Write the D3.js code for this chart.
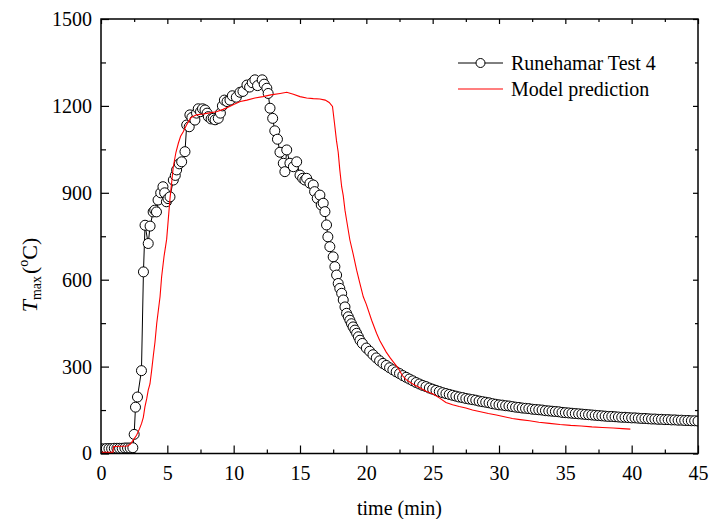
<!DOCTYPE html>
<html>
<head>
<meta charset="utf-8">
<script src="https://cdn.jsdelivr.net/npm/d3@7"></script>
<style>
  body { margin: 0; background: #fff; }
  text { font-family: "Liberation Serif", "Times New Roman", serif; }
</style>
</head>
<body>
<div id="chart"></div>
<script>
// ---- data ----
const xTicks = [0, 5, 10, 15, 20, 25, 30, 35, 40, 45];
const yTicks = [0, 300, 600, 900, 1200, 1500];

// Runehamar Test 4: flat start (evenly sampled)
const earlyStart = 0, earlyStep = 0.2;
const earlyTemp = [16, 16, 17, 17, 17, 18, 18, 18, 18, 19, 19, 19, 20];

// Runehamar Test 4: growth, peak and decay  [time (min), T (°C)]
const testPoints = [
  [2.5, 66], [2.6, 160], [2.75, 195], [3.05, 286], [3.2, 627], [3.32, 788],
  [3.56, 725], [3.7, 785], [3.93, 834], [4.05, 840], [4.18, 834], [4.3, 875],
  [4.5, 900], [4.67, 921], [4.8, 900], [4.93, 869], [5.05, 880], [5.2, 886],
  [5.45, 944], [5.6, 960], [5.7, 979], [5.9, 1000], [6.08, 1007], [6.33, 1042],
  [6.46, 1134], [6.65, 1128], [6.7, 1169], [6.85, 1160], [7.08, 1151], [7.2, 1175],
  [7.33, 1190], [7.5, 1180], [7.65, 1190], [7.84, 1186], [8.0, 1175], [8.09, 1163],
  [8.3, 1155], [8.46, 1157], [8.6, 1152], [8.84, 1157], [9.0, 1175], [9.15, 1200],
  [9.3, 1220], [9.5, 1215], [9.72, 1220], [9.9, 1235], [10.2, 1230], [10.48, 1247],
  [10.7, 1250], [11.0, 1272], [11.2, 1265], [11.4, 1280], [11.6, 1290], [11.8, 1270],
  [12.15, 1290], [12.3, 1275], [12.5, 1261], [12.6, 1243], [12.74, 1192], [12.94, 1157],
  [13.1, 1114], [13.3, 1085], [13.49, 1040], [13.74, 1002], [13.86, 973], [14.0, 1048],
  [14.24, 1002], [14.5, 990], [14.75, 1007], [15.0, 961], [15.2, 950], [15.37, 944],
  [15.5, 950], [15.75, 933], [16.0, 927], [16.1, 904], [16.3, 881], [16.5, 892],
  [16.6, 858], [16.75, 864], [16.88, 835], [17.0, 789], [17.1, 748], [17.25, 714],
  [17.5, 679], [17.63, 645], [17.76, 616], [17.88, 587], [18.0, 570], [18.14, 553],
  [18.26, 530], [18.39, 506], [18.51, 484], [18.64, 472], [18.76, 460], [18.88, 448],
  [19.0, 437], [19.14, 426], [19.27, 415], [19.4, 403], [19.52, 391], [19.7, 380]
];

// Runehamar Test 4: cooling tail (evenly sampled)
const tailStart = 20, tailStep = 0.25;
const tailTemp = [
  364, 353, 341, 330, 320, 311, 304, 296, 289, 282, 276, 269, 263, 257, 251, 245,
  240, 235, 231, 226, 222, 218, 214, 210, 207, 204, 201, 198, 195, 193, 190, 188,
  186, 184, 181, 179, 177, 175, 172, 170, 168, 167, 165, 164, 162, 160, 159, 157,
  156, 155, 153, 152, 151, 150, 148, 147, 146, 145, 144, 142, 141, 140, 139, 138,
  137, 136, 135, 134, 133, 132, 131, 130, 129, 128, 128, 127, 126, 125, 125, 124,
  123, 123, 122, 121, 121, 120, 119, 119, 118, 118, 117, 117, 116, 116, 115, 115,
  114, 114, 113, 113, 112
];

// Model prediction  [time (min), T (°C)]
const modelPoints = [
  [0, 4], [0.9, 4], [0.95, 24], [1.5, 25], [2.0, 26], [2.2, 32], [2.43, 46],
  [2.68, 63], [2.9, 85], [3.06, 104], [3.19, 125], [3.31, 161], [3.45, 190],
  [3.56, 219], [3.69, 240], [3.82, 288], [3.95, 340], [4.07, 385], [4.2, 449],
  [4.45, 541], [4.57, 610], [4.75, 680], [4.95, 740], [5.2, 880], [5.45, 990],
  [5.65, 1040], [5.83, 1071], [6.0, 1095], [6.2, 1111], [6.4, 1130], [6.58, 1145],
  [6.8, 1160], [7.2, 1169], [7.7, 1172], [8.2, 1176], [8.7, 1180], [9.2, 1188],
  [9.7, 1198], [10.0, 1205], [10.5, 1215], [11.0, 1220], [11.6, 1227], [12.2, 1232],
  [12.8, 1238], [13.5, 1243], [14.0, 1247], [14.5, 1240], [15.0, 1232], [15.5, 1227],
  [16.0, 1225], [16.5, 1224], [16.9, 1220], [17.2, 1212], [17.45, 1198], [17.6, 1140],
  [17.75, 1080], [17.88, 1040], [18.0, 979], [18.14, 921], [18.26, 890], [18.39, 840],
  [18.51, 806], [18.76, 737], [19.0, 690], [19.27, 633], [19.5, 590], [19.77, 541],
  [20.0, 515], [20.4, 460], [20.77, 415], [21.0, 391], [21.5, 350], [21.8, 330],
  [22.0, 318], [22.4, 295], [22.7, 270], [23.0, 255], [23.5, 240], [24.0, 228],
  [24.5, 215], [25.0, 206], [25.5, 192], [26.0, 176], [26.5, 168], [27.0, 162],
  [27.5, 157], [28.0, 150], [28.6, 144], [29.2, 138], [29.8, 133], [30.4, 127],
  [31.0, 121], [31.6, 117], [32.3, 113], [33.0, 108], [33.8, 104], [34.6, 100],
  [35.4, 97], [36.2, 95], [37.0, 92], [37.8, 90], [38.6, 88], [39.3, 86], [39.9, 84]
];

// ---- chart ----
const W = 710, H = 519;
const L = 101, R = 698, T = 19, B = 453.5;

const test = earlyTemp.map((v, i) => [earlyStart + i * earlyStep, v])
  .concat(testPoints)
  .concat(tailTemp.map((v, i) => [tailStart + i * tailStep, v]));

const svg = d3.select('#chart').append('svg')
  .attr('width', W).attr('height', H);

const x = d3.scaleLinear().domain([0, 45]).range([L, R]);
const y = d3.scaleLinear().domain([0, 1500]).range([B, T]);

const minorX = d3.range(2.5, 45, 5);
const minorY = d3.range(150, 1500, 300);

svg.append('clipPath').attr('id', 'plot')
  .append('rect').attr('x', L).attr('y', T).attr('width', R - L).attr('height', B - T);

const styleAxis = ax => {
  ax.select('.domain').remove();
  ax.selectAll('line').attr('stroke', '#000').attr('stroke-width', 1.2);
  ax.selectAll('text').attr('font-size', '20px').attr('fill', '#000')
    .attr('font-family', '"Liberation Serif", serif');
};

// bottom / left with labels
svg.append('g').attr('transform', `translate(0,${B})`)
  .call(d3.axisBottom(x).tickValues(xTicks).tickSize(-8).tickPadding(12).tickFormat(d3.format('d')))
  .call(styleAxis);
svg.append('g').attr('transform', `translate(0,${B})`)
  .call(d3.axisBottom(x).tickValues(minorX).tickSize(-4).tickFormat(''))
  .call(styleAxis);
svg.append('g').attr('transform', `translate(${L},0)`)
  .call(d3.axisLeft(y).tickValues(yTicks).tickSize(-8).tickPadding(9).tickFormat(d3.format('d')))
  .call(styleAxis);
svg.append('g').attr('transform', `translate(${L},0)`)
  .call(d3.axisLeft(y).tickValues(minorY).tickSize(-5).tickFormat(''))
  .call(styleAxis);

// mirrored top / right ticks
svg.append('g').attr('transform', `translate(0,${T})`)
  .call(d3.axisTop(x).tickValues(xTicks).tickSize(-5).tickFormat(''))
  .call(styleAxis);
svg.append('g').attr('transform', `translate(0,${T})`)
  .call(d3.axisTop(x).tickValues(minorX).tickSize(-3).tickFormat(''))
  .call(styleAxis);
svg.append('g').attr('transform', `translate(${R},0)`)
  .call(d3.axisRight(y).tickValues(yTicks).tickSize(-5).tickFormat(''))
  .call(styleAxis);
svg.append('g').attr('transform', `translate(${R},0)`)
  .call(d3.axisRight(y).tickValues(minorY).tickSize(-3).tickFormat(''))
  .call(styleAxis);

const plot = svg.append('g').attr('clip-path', 'url(#plot)');

const line = d3.line().x(d => x(d[0])).y(d => y(d[1]));

// test data: thin connecting line, then open circles
plot.append('path').datum(test)
  .attr('d', line).attr('fill', 'none').attr('stroke', '#000').attr('stroke-width', 1);

plot.selectAll('circle.test')
  .data(test)
  .join('circle')
  .attr('class', 'test')
  .attr('cx', d => x(d[0]))
  .attr('cy', d => y(d[1]))
  .attr('r', 5)
  .attr('fill', '#fff')
  .attr('stroke', '#000')
  .attr('stroke-width', 1);

// model prediction
plot.append('path').datum(modelPoints)
  .attr('d', line).attr('fill', 'none').attr('stroke', '#f00').attr('stroke-width', 1.1);

// frame
svg.append('rect')
  .attr('x', L).attr('y', T).attr('width', R - L).attr('height', B - T)
  .attr('fill', 'none').attr('stroke', '#000').attr('stroke-width', 1.5);

// legend
const lg = svg.append('g');
lg.append('line').attr('x1', 458).attr('x2', 503).attr('y1', 63).attr('y2', 63)
  .attr('stroke', '#000').attr('stroke-width', 1);
lg.append('circle').attr('cx', 480.5).attr('cy', 63).attr('r', 4.5)
  .attr('fill', '#fff').attr('stroke', '#000').attr('stroke-width', 1);
lg.append('text').attr('x', 511).attr('y', 70).attr('font-size', '20px').text('Runehamar Test 4');
lg.append('line').attr('x1', 458).attr('x2', 503).attr('y1', 89).attr('y2', 89)
  .attr('stroke', '#f00').attr('stroke-width', 1.1);
lg.append('text').attr('x', 511).attr('y', 96).attr('font-size', '20px').text('Model prediction');

// axis titles
svg.append('text')
  .attr('x', (L + R) / 2).attr('y', 515)
  .attr('text-anchor', 'middle').attr('font-size', '20px')
  .text('time (min)');

const yl = svg.append('text')
  .attr('transform', 'translate(37,275) rotate(-90)')
  .attr('text-anchor', 'middle').attr('font-size', '22px');
yl.append('tspan').attr('font-style', 'italic').text('T');
yl.append('tspan').attr('font-size', '14px').attr('dy', 4).text('max');
yl.append('tspan').attr('dy', -4).attr('dx', 2).text('(');
yl.append('tspan').attr('font-size', '14px').attr('dy', -9).text('o');
yl.append('tspan').attr('dy', 9).text('C)');
</script>
</body>
</html>
